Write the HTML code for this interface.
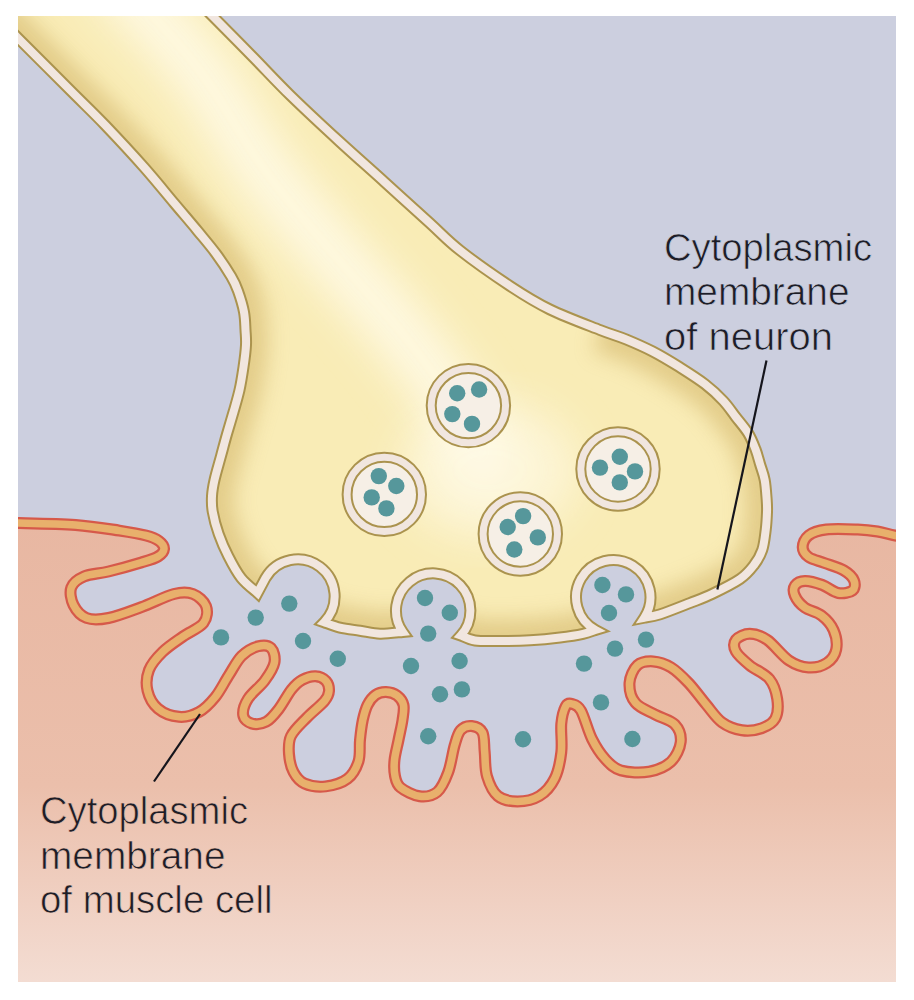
<!DOCTYPE html>
<html><head><meta charset="utf-8"><style>
html,body{margin:0;padding:0;background:#fff;}
body{width:914px;height:1000px;overflow:hidden;position:relative;}
svg{position:absolute;left:0;top:0;}
.t{font-family:"Liberation Sans",sans-serif;font-size:39px;fill:#1d1d27;}
</style></head><body>
<svg width="914" height="1000" viewBox="0 0 914 1000">
<defs>
<clipPath id="box"><rect x="18" y="16" width="878" height="966"/></clipPath>
<linearGradient id="mg" x1="0" y1="523" x2="0" y2="1000" gradientUnits="userSpaceOnUse">
<stop offset="0" stop-color="#e8b7a2"/>
<stop offset="0.55" stop-color="#ebbfab"/>
<stop offset="1" stop-color="#f4dfd6"/>
</linearGradient>
<clipPath id="nclip"><path d="M185,-12 C189.7,-7.2 201.8,5.2 213,16.5 C224.2,27.8 239,42.8 252,56 C265,69.2 276.4,81.8 291,96 C305.6,110.2 323.9,127.2 339.5,141.5 C355.1,155.8 369.6,168.5 384.5,182 C399.4,195.5 416.6,211.1 429.2,222.5 C441.8,233.9 446.5,239.8 460,250.4 C473.5,261 495,276.1 510,286 C525,295.9 535,302.2 550,309.5 C565,316.8 587.3,325 600,330 C612.7,335 617.5,335.9 626.3,339.5 C635,343.1 643.8,346.9 652.5,351.4 C661.2,355.9 670,361.2 678.8,366.7 C687.5,372.2 697.6,378.5 705,384.2 C712.4,389.9 718.3,395.5 723.4,401 C728.5,406.5 731.7,411.7 735.8,417 C739.9,422.3 744.7,427.7 748,433 C751.3,438.3 753.4,443.8 755.4,449 C757.4,454.2 758.5,458.8 760,464 C761.5,469.2 763.6,474 764.7,480 C765.8,486 766.3,494.7 766.7,500 C767.1,505.3 767.2,507 767,512 C766.8,517 766.5,523.7 765.7,530 C764.9,536.3 764.2,544.2 762.2,550 C760.2,555.8 757.7,560.2 754,565 C750.3,569.8 747,574.2 740,579 C733,583.8 720.3,590 712,594 C703.7,598 698.7,599.6 690,603 C681.3,606.4 667.6,611.9 660,614.4 C652.4,616.9 646.9,617.2 644.3,617.7 A37.2,37.2 0 1 0 595.5,629.9 C593.5,630.5 588.9,632.5 583,633.8 C577.1,635.1 568.8,636.4 560,637.5 C551.2,638.6 540,639.7 530,640.3 C520,640.9 509.2,641 500,641 C490.8,641 481.5,641.4 475,640.5 C468.5,639.6 463.2,636.3 460.8,635.5 A37.2,37.2 0 1 0 402.7,631.9 C398.9,632.2 387.1,633.9 380,633.7 C372.9,633.5 366.7,631.7 360,630.7 C353.3,629.7 346,629 340,627.6 C334,626.2 326.8,623.1 324.1,622.2 A37,37 0 1 0 265.5,578 L257.5,593 C254.8,590.5 246.1,584.2 241.2,578 C236.3,571.8 231.9,563.3 228.2,556 C224.4,548.7 221.3,541.3 218.7,534 C216.1,526.7 213.9,518.3 212.8,512 C211.7,505.7 211.7,501.3 212,496 C212.3,490.7 213,486.7 214.5,480 C216,473.3 218.9,463.7 221,456 C223.1,448.3 224.9,441.3 227,434 C229.1,426.7 231.4,419.3 233.5,412 C235.6,404.7 237.8,397.5 239.5,390 C241.2,382.5 242.4,374.5 243.5,367 C244.6,359.5 245.7,351.2 246,345 C246.3,338.8 245.8,335.5 245.5,330 C245.2,324.5 245.2,318.5 244,312 C242.8,305.5 240.1,296.9 238,291 C235.9,285.1 235,282.8 231.3,276.6 C227.6,270.4 221.7,261.3 216,253.6 C210.3,245.9 204.3,239 197.4,230.6 C190.5,222.2 183.3,213.9 174.4,203.3 C165.5,192.7 155.3,180 143.8,167 C132.3,154 117.6,138.2 105.5,125.5 C93.4,112.8 85.6,105.6 71,91 C56.4,76.4 31.8,51.8 18,38 C4.2,24.2 -7,13 -12,8 L-12,-40 L185,-40 Z"/></clipPath>
<filter id="blur8" x="-20%" y="-20%" width="140%" height="140%"><feGaussianBlur stdDeviation="10"/></filter>
<filter id="blur20" x="-20%" y="-20%" width="140%" height="140%"><feGaussianBlur stdDeviation="22"/></filter>
</defs>
<g clip-path="url(#box)">
<rect x="0" y="0" width="914" height="1000" fill="#cccfdf"/>
<path d="M0,523 C3.1,523 6.2,522.7 18.8,523 C31.4,523.3 58.8,523.7 75.6,525 C92.4,526.3 107.7,528.9 119.4,530.6 C131.1,532.4 139.4,533.8 146,535.5 C152.6,537.2 156,538.8 159,541 C162,543.2 164.2,546.4 164,549 C163.8,551.6 161.8,554.2 158,556.5 C154.2,558.8 149.6,560 141.3,562.5 C133.1,565 118,569.2 108.5,571.5 C99,573.8 90.2,573.8 84,576.5 C77.8,579.2 73,582.8 71.3,587.5 C69.5,592.2 71,599.9 73.5,605 C76,610.1 80.8,615.8 86.6,618 C92.4,620.2 99.4,619.8 108.5,618 C117.6,616.2 130.4,611.2 141.3,607.2 C152.2,603.2 165.4,596.2 174,594 C182.6,591.8 187.7,592 193,594 C198.3,596 204.2,601.2 206,606 C207.8,610.8 207.3,617.9 203.5,623 C199.7,628.1 189.8,631.7 183,636.5 C176.2,641.3 168.2,646.4 162.5,652 C156.8,657.6 151.5,663.6 149,670 C146.5,676.4 146,684.2 147.5,690.6 C149,697 152.8,704.2 158,708.6 C163.2,713 172.2,716.2 179,716.8 C185.8,717.4 192.9,715.3 199,712 C205.1,708.7 210.4,703 215.3,697 C220.2,691 224.1,682.6 228.5,675.8 C232.9,669 236.7,660.9 241.6,656 C246.5,651.1 253.1,647.6 258,646.3 C262.9,645 268.3,645.3 271,648 C273.7,650.7 275.5,657.2 274.4,662.7 C273.3,668.2 269,674.7 264.6,680.7 C260.2,686.7 251.6,693 248,698.8 C244.4,704.5 242.6,711.1 243.2,715.2 C243.8,719.3 247.7,722.3 251.5,723.4 C255.3,724.5 261.6,724.2 266.2,721.8 C270.8,719.4 274.6,714.4 278.8,709 C283,703.6 287.6,694.3 291.5,689.5 C295.4,684.7 298,682.2 302,680 C306,677.8 311.5,676 315.5,676.2 C319.5,676.4 323.8,678.5 326,681 C328.2,683.5 329.2,687.7 329,691 C328.8,694.3 328.2,696.5 324.5,701 C320.8,705.5 312.1,712.2 306.5,718 C300.9,723.8 293.9,730 291,736 C288.1,742 288.6,748 289,754 C289.4,760 290.9,767.1 293.5,772 C296.1,776.9 299.1,781.1 304.5,783.5 C309.9,785.9 318.4,787.2 325.6,786.4 C332.8,785.6 342,783 347.5,778.8 C353,774.6 356.4,767.8 358.5,761.3 C360.6,754.8 359.3,746.9 360,740 C360.7,733.1 361.6,725.8 362.8,720 C364.1,714.2 365.4,709.2 367.5,705 C369.6,700.8 372.4,697.2 375.5,695 C378.6,692.8 382.4,691.9 386,692 C389.6,692.1 394.1,693.3 397,695.5 C399.9,697.7 402.6,700.9 403.5,705 C404.4,709.1 403.3,714.2 402.5,720 C401.7,725.8 399.8,733.3 398.5,740 C397.2,746.7 395.1,754 394.5,760 C393.9,766 394,771.4 395,776 C396,780.6 396.4,784.1 400.5,787.5 C404.6,790.9 413.6,795.5 419.7,796.3 C425.8,797 432.4,796 437.2,792 C441.9,788 445.3,780 448.2,772.2 C451.1,764.4 452.6,752 454.7,745 C456.8,738 457.8,733.5 460.6,730.3 C463.4,727.1 468,725.6 471.6,726 C475.2,726.4 480.3,728.1 482.5,732.5 C484.7,736.9 483.9,744.9 484.7,752.2 C485.4,759.5 484.8,769 487,776.3 C489.2,783.6 492.7,791.8 497.8,796 C502.9,800.2 510.6,801.4 517.5,801.4 C524.4,801.4 533.2,799.8 539.4,796 C545.6,792.2 551.1,785.8 554.7,778.5 C558.4,771.2 560.2,761.3 561.3,752.2 C562.4,743.1 560.6,731.4 561.3,723.8 C562,716.1 563.9,709.6 565.7,706.3 C567.5,703 569.7,703.3 572.2,704 C574.8,704.7 577.7,704.8 581,710.6 C584.3,716.4 588,731 592,739 C596,747 600.2,753.5 605,758.8 C609.8,764 613.6,768.4 621,770.5 C628.4,772.6 640.9,773.1 649.2,771.6 C657.5,770.1 665.6,766.7 670.9,761.8 C676.1,756.9 680.1,748.2 680.7,742 C681.4,735.8 679.1,729 674.8,724.4 C670.5,719.8 661.6,718.1 655,714.5 C648.4,710.9 639.6,708 635.4,702.7 C631.1,697.5 629.2,689.2 629.5,683 C629.8,676.8 633.4,668.9 637.4,665.3 C641.4,661.7 647.6,661.1 653.2,661.4 C658.8,661.7 665,663.7 670.9,667.3 C676.8,670.9 682.7,676.8 688.6,683 C694.5,689.2 700.7,698.1 706.3,704.7 C711.9,711.3 716.1,718.1 722,722.4 C727.9,726.7 735.2,729.3 741.8,730.3 C748.4,731.3 755.9,730.3 761.5,728.3 C767.1,726.3 772.7,723.4 775.3,718.5 C777.9,713.6 778.2,705.4 777.2,698.8 C776.2,692.2 774,684.6 769.4,679 C764.8,673.4 755.3,669.9 749.7,665.3 C744.1,660.7 738.2,655.8 735.9,651.5 C733.6,647.2 733.6,642.7 735.9,639.7 C738.2,636.8 744.5,633.8 749.7,633.8 C755,633.8 760.9,635.5 767.4,640 C773.9,644.5 782.1,655.9 789,660.5 C795.9,665.1 802.3,667.1 808.6,667.5 C814.9,667.9 822.2,666 826.8,663 C831.4,660 835.1,655 836.2,649.5 C837.3,644 836,635.7 833.5,630 C831,624.3 826.3,619.2 821.5,615.5 C816.7,611.8 809.2,610.8 804.7,607.5 C800.2,604.2 796.4,599.2 794.8,595.5 C793.2,591.8 793.3,587.9 795,585.5 C796.7,583.1 800.4,581.1 805,581 C809.6,580.9 816.9,583 822.4,585 C827.9,587 833.2,592.1 838.2,593 C843.2,593.9 849.9,592.6 852.5,590.5 C855.1,588.4 855.4,583.8 854,580.5 C852.6,577.2 848.9,573.4 844,570.5 C839.1,567.6 830.3,565.2 824.4,563 C818.5,560.8 812.2,559.6 808.6,557 C805,554.4 802.7,550.9 802.7,547.3 C802.7,543.7 804.7,538.4 808.6,535.4 C812.5,532.4 818.1,530.5 826.3,529.5 C834.5,528.5 849.3,529.2 857.8,529.5 C866.3,529.8 871.4,530.5 877.5,531.5 C883.6,532.5 888.2,534.1 894.3,535.4 C900.4,536.6 910.7,538.4 914,539 L914,1000 L0,1000 Z" fill="url(#mg)"/>
<path d="M0,523 C3.1,523 6.2,522.7 18.8,523 C31.4,523.3 58.8,523.7 75.6,525 C92.4,526.3 107.7,528.9 119.4,530.6 C131.1,532.4 139.4,533.8 146,535.5 C152.6,537.2 156,538.8 159,541 C162,543.2 164.2,546.4 164,549 C163.8,551.6 161.8,554.2 158,556.5 C154.2,558.8 149.6,560 141.3,562.5 C133.1,565 118,569.2 108.5,571.5 C99,573.8 90.2,573.8 84,576.5 C77.8,579.2 73,582.8 71.3,587.5 C69.5,592.2 71,599.9 73.5,605 C76,610.1 80.8,615.8 86.6,618 C92.4,620.2 99.4,619.8 108.5,618 C117.6,616.2 130.4,611.2 141.3,607.2 C152.2,603.2 165.4,596.2 174,594 C182.6,591.8 187.7,592 193,594 C198.3,596 204.2,601.2 206,606 C207.8,610.8 207.3,617.9 203.5,623 C199.7,628.1 189.8,631.7 183,636.5 C176.2,641.3 168.2,646.4 162.5,652 C156.8,657.6 151.5,663.6 149,670 C146.5,676.4 146,684.2 147.5,690.6 C149,697 152.8,704.2 158,708.6 C163.2,713 172.2,716.2 179,716.8 C185.8,717.4 192.9,715.3 199,712 C205.1,708.7 210.4,703 215.3,697 C220.2,691 224.1,682.6 228.5,675.8 C232.9,669 236.7,660.9 241.6,656 C246.5,651.1 253.1,647.6 258,646.3 C262.9,645 268.3,645.3 271,648 C273.7,650.7 275.5,657.2 274.4,662.7 C273.3,668.2 269,674.7 264.6,680.7 C260.2,686.7 251.6,693 248,698.8 C244.4,704.5 242.6,711.1 243.2,715.2 C243.8,719.3 247.7,722.3 251.5,723.4 C255.3,724.5 261.6,724.2 266.2,721.8 C270.8,719.4 274.6,714.4 278.8,709 C283,703.6 287.6,694.3 291.5,689.5 C295.4,684.7 298,682.2 302,680 C306,677.8 311.5,676 315.5,676.2 C319.5,676.4 323.8,678.5 326,681 C328.2,683.5 329.2,687.7 329,691 C328.8,694.3 328.2,696.5 324.5,701 C320.8,705.5 312.1,712.2 306.5,718 C300.9,723.8 293.9,730 291,736 C288.1,742 288.6,748 289,754 C289.4,760 290.9,767.1 293.5,772 C296.1,776.9 299.1,781.1 304.5,783.5 C309.9,785.9 318.4,787.2 325.6,786.4 C332.8,785.6 342,783 347.5,778.8 C353,774.6 356.4,767.8 358.5,761.3 C360.6,754.8 359.3,746.9 360,740 C360.7,733.1 361.6,725.8 362.8,720 C364.1,714.2 365.4,709.2 367.5,705 C369.6,700.8 372.4,697.2 375.5,695 C378.6,692.8 382.4,691.9 386,692 C389.6,692.1 394.1,693.3 397,695.5 C399.9,697.7 402.6,700.9 403.5,705 C404.4,709.1 403.3,714.2 402.5,720 C401.7,725.8 399.8,733.3 398.5,740 C397.2,746.7 395.1,754 394.5,760 C393.9,766 394,771.4 395,776 C396,780.6 396.4,784.1 400.5,787.5 C404.6,790.9 413.6,795.5 419.7,796.3 C425.8,797 432.4,796 437.2,792 C441.9,788 445.3,780 448.2,772.2 C451.1,764.4 452.6,752 454.7,745 C456.8,738 457.8,733.5 460.6,730.3 C463.4,727.1 468,725.6 471.6,726 C475.2,726.4 480.3,728.1 482.5,732.5 C484.7,736.9 483.9,744.9 484.7,752.2 C485.4,759.5 484.8,769 487,776.3 C489.2,783.6 492.7,791.8 497.8,796 C502.9,800.2 510.6,801.4 517.5,801.4 C524.4,801.4 533.2,799.8 539.4,796 C545.6,792.2 551.1,785.8 554.7,778.5 C558.4,771.2 560.2,761.3 561.3,752.2 C562.4,743.1 560.6,731.4 561.3,723.8 C562,716.1 563.9,709.6 565.7,706.3 C567.5,703 569.7,703.3 572.2,704 C574.8,704.7 577.7,704.8 581,710.6 C584.3,716.4 588,731 592,739 C596,747 600.2,753.5 605,758.8 C609.8,764 613.6,768.4 621,770.5 C628.4,772.6 640.9,773.1 649.2,771.6 C657.5,770.1 665.6,766.7 670.9,761.8 C676.1,756.9 680.1,748.2 680.7,742 C681.4,735.8 679.1,729 674.8,724.4 C670.5,719.8 661.6,718.1 655,714.5 C648.4,710.9 639.6,708 635.4,702.7 C631.1,697.5 629.2,689.2 629.5,683 C629.8,676.8 633.4,668.9 637.4,665.3 C641.4,661.7 647.6,661.1 653.2,661.4 C658.8,661.7 665,663.7 670.9,667.3 C676.8,670.9 682.7,676.8 688.6,683 C694.5,689.2 700.7,698.1 706.3,704.7 C711.9,711.3 716.1,718.1 722,722.4 C727.9,726.7 735.2,729.3 741.8,730.3 C748.4,731.3 755.9,730.3 761.5,728.3 C767.1,726.3 772.7,723.4 775.3,718.5 C777.9,713.6 778.2,705.4 777.2,698.8 C776.2,692.2 774,684.6 769.4,679 C764.8,673.4 755.3,669.9 749.7,665.3 C744.1,660.7 738.2,655.8 735.9,651.5 C733.6,647.2 733.6,642.7 735.9,639.7 C738.2,636.8 744.5,633.8 749.7,633.8 C755,633.8 760.9,635.5 767.4,640 C773.9,644.5 782.1,655.9 789,660.5 C795.9,665.1 802.3,667.1 808.6,667.5 C814.9,667.9 822.2,666 826.8,663 C831.4,660 835.1,655 836.2,649.5 C837.3,644 836,635.7 833.5,630 C831,624.3 826.3,619.2 821.5,615.5 C816.7,611.8 809.2,610.8 804.7,607.5 C800.2,604.2 796.4,599.2 794.8,595.5 C793.2,591.8 793.3,587.9 795,585.5 C796.7,583.1 800.4,581.1 805,581 C809.6,580.9 816.9,583 822.4,585 C827.9,587 833.2,592.1 838.2,593 C843.2,593.9 849.9,592.6 852.5,590.5 C855.1,588.4 855.4,583.8 854,580.5 C852.6,577.2 848.9,573.4 844,570.5 C839.1,567.6 830.3,565.2 824.4,563 C818.5,560.8 812.2,559.6 808.6,557 C805,554.4 802.7,550.9 802.7,547.3 C802.7,543.7 804.7,538.4 808.6,535.4 C812.5,532.4 818.1,530.5 826.3,529.5 C834.5,528.5 849.3,529.2 857.8,529.5 C866.3,529.8 871.4,530.5 877.5,531.5 C883.6,532.5 888.2,534.1 894.3,535.4 C900.4,536.6 910.7,538.4 914,539" fill="none" stroke="#d6594a" stroke-width="12" stroke-linejoin="round"/>
<path d="M0,523 C3.1,523 6.2,522.7 18.8,523 C31.4,523.3 58.8,523.7 75.6,525 C92.4,526.3 107.7,528.9 119.4,530.6 C131.1,532.4 139.4,533.8 146,535.5 C152.6,537.2 156,538.8 159,541 C162,543.2 164.2,546.4 164,549 C163.8,551.6 161.8,554.2 158,556.5 C154.2,558.8 149.6,560 141.3,562.5 C133.1,565 118,569.2 108.5,571.5 C99,573.8 90.2,573.8 84,576.5 C77.8,579.2 73,582.8 71.3,587.5 C69.5,592.2 71,599.9 73.5,605 C76,610.1 80.8,615.8 86.6,618 C92.4,620.2 99.4,619.8 108.5,618 C117.6,616.2 130.4,611.2 141.3,607.2 C152.2,603.2 165.4,596.2 174,594 C182.6,591.8 187.7,592 193,594 C198.3,596 204.2,601.2 206,606 C207.8,610.8 207.3,617.9 203.5,623 C199.7,628.1 189.8,631.7 183,636.5 C176.2,641.3 168.2,646.4 162.5,652 C156.8,657.6 151.5,663.6 149,670 C146.5,676.4 146,684.2 147.5,690.6 C149,697 152.8,704.2 158,708.6 C163.2,713 172.2,716.2 179,716.8 C185.8,717.4 192.9,715.3 199,712 C205.1,708.7 210.4,703 215.3,697 C220.2,691 224.1,682.6 228.5,675.8 C232.9,669 236.7,660.9 241.6,656 C246.5,651.1 253.1,647.6 258,646.3 C262.9,645 268.3,645.3 271,648 C273.7,650.7 275.5,657.2 274.4,662.7 C273.3,668.2 269,674.7 264.6,680.7 C260.2,686.7 251.6,693 248,698.8 C244.4,704.5 242.6,711.1 243.2,715.2 C243.8,719.3 247.7,722.3 251.5,723.4 C255.3,724.5 261.6,724.2 266.2,721.8 C270.8,719.4 274.6,714.4 278.8,709 C283,703.6 287.6,694.3 291.5,689.5 C295.4,684.7 298,682.2 302,680 C306,677.8 311.5,676 315.5,676.2 C319.5,676.4 323.8,678.5 326,681 C328.2,683.5 329.2,687.7 329,691 C328.8,694.3 328.2,696.5 324.5,701 C320.8,705.5 312.1,712.2 306.5,718 C300.9,723.8 293.9,730 291,736 C288.1,742 288.6,748 289,754 C289.4,760 290.9,767.1 293.5,772 C296.1,776.9 299.1,781.1 304.5,783.5 C309.9,785.9 318.4,787.2 325.6,786.4 C332.8,785.6 342,783 347.5,778.8 C353,774.6 356.4,767.8 358.5,761.3 C360.6,754.8 359.3,746.9 360,740 C360.7,733.1 361.6,725.8 362.8,720 C364.1,714.2 365.4,709.2 367.5,705 C369.6,700.8 372.4,697.2 375.5,695 C378.6,692.8 382.4,691.9 386,692 C389.6,692.1 394.1,693.3 397,695.5 C399.9,697.7 402.6,700.9 403.5,705 C404.4,709.1 403.3,714.2 402.5,720 C401.7,725.8 399.8,733.3 398.5,740 C397.2,746.7 395.1,754 394.5,760 C393.9,766 394,771.4 395,776 C396,780.6 396.4,784.1 400.5,787.5 C404.6,790.9 413.6,795.5 419.7,796.3 C425.8,797 432.4,796 437.2,792 C441.9,788 445.3,780 448.2,772.2 C451.1,764.4 452.6,752 454.7,745 C456.8,738 457.8,733.5 460.6,730.3 C463.4,727.1 468,725.6 471.6,726 C475.2,726.4 480.3,728.1 482.5,732.5 C484.7,736.9 483.9,744.9 484.7,752.2 C485.4,759.5 484.8,769 487,776.3 C489.2,783.6 492.7,791.8 497.8,796 C502.9,800.2 510.6,801.4 517.5,801.4 C524.4,801.4 533.2,799.8 539.4,796 C545.6,792.2 551.1,785.8 554.7,778.5 C558.4,771.2 560.2,761.3 561.3,752.2 C562.4,743.1 560.6,731.4 561.3,723.8 C562,716.1 563.9,709.6 565.7,706.3 C567.5,703 569.7,703.3 572.2,704 C574.8,704.7 577.7,704.8 581,710.6 C584.3,716.4 588,731 592,739 C596,747 600.2,753.5 605,758.8 C609.8,764 613.6,768.4 621,770.5 C628.4,772.6 640.9,773.1 649.2,771.6 C657.5,770.1 665.6,766.7 670.9,761.8 C676.1,756.9 680.1,748.2 680.7,742 C681.4,735.8 679.1,729 674.8,724.4 C670.5,719.8 661.6,718.1 655,714.5 C648.4,710.9 639.6,708 635.4,702.7 C631.1,697.5 629.2,689.2 629.5,683 C629.8,676.8 633.4,668.9 637.4,665.3 C641.4,661.7 647.6,661.1 653.2,661.4 C658.8,661.7 665,663.7 670.9,667.3 C676.8,670.9 682.7,676.8 688.6,683 C694.5,689.2 700.7,698.1 706.3,704.7 C711.9,711.3 716.1,718.1 722,722.4 C727.9,726.7 735.2,729.3 741.8,730.3 C748.4,731.3 755.9,730.3 761.5,728.3 C767.1,726.3 772.7,723.4 775.3,718.5 C777.9,713.6 778.2,705.4 777.2,698.8 C776.2,692.2 774,684.6 769.4,679 C764.8,673.4 755.3,669.9 749.7,665.3 C744.1,660.7 738.2,655.8 735.9,651.5 C733.6,647.2 733.6,642.7 735.9,639.7 C738.2,636.8 744.5,633.8 749.7,633.8 C755,633.8 760.9,635.5 767.4,640 C773.9,644.5 782.1,655.9 789,660.5 C795.9,665.1 802.3,667.1 808.6,667.5 C814.9,667.9 822.2,666 826.8,663 C831.4,660 835.1,655 836.2,649.5 C837.3,644 836,635.7 833.5,630 C831,624.3 826.3,619.2 821.5,615.5 C816.7,611.8 809.2,610.8 804.7,607.5 C800.2,604.2 796.4,599.2 794.8,595.5 C793.2,591.8 793.3,587.9 795,585.5 C796.7,583.1 800.4,581.1 805,581 C809.6,580.9 816.9,583 822.4,585 C827.9,587 833.2,592.1 838.2,593 C843.2,593.9 849.9,592.6 852.5,590.5 C855.1,588.4 855.4,583.8 854,580.5 C852.6,577.2 848.9,573.4 844,570.5 C839.1,567.6 830.3,565.2 824.4,563 C818.5,560.8 812.2,559.6 808.6,557 C805,554.4 802.7,550.9 802.7,547.3 C802.7,543.7 804.7,538.4 808.6,535.4 C812.5,532.4 818.1,530.5 826.3,529.5 C834.5,528.5 849.3,529.2 857.8,529.5 C866.3,529.8 871.4,530.5 877.5,531.5 C883.6,532.5 888.2,534.1 894.3,535.4 C900.4,536.6 910.7,538.4 914,539" fill="none" stroke="#e8b06c" stroke-width="7.5" stroke-linejoin="round"/>
<path d="M185,-12 C189.7,-7.2 201.8,5.2 213,16.5 C224.2,27.8 239,42.8 252,56 C265,69.2 276.4,81.8 291,96 C305.6,110.2 323.9,127.2 339.5,141.5 C355.1,155.8 369.6,168.5 384.5,182 C399.4,195.5 416.6,211.1 429.2,222.5 C441.8,233.9 446.5,239.8 460,250.4 C473.5,261 495,276.1 510,286 C525,295.9 535,302.2 550,309.5 C565,316.8 587.3,325 600,330 C612.7,335 617.5,335.9 626.3,339.5 C635,343.1 643.8,346.9 652.5,351.4 C661.2,355.9 670,361.2 678.8,366.7 C687.5,372.2 697.6,378.5 705,384.2 C712.4,389.9 718.3,395.5 723.4,401 C728.5,406.5 731.7,411.7 735.8,417 C739.9,422.3 744.7,427.7 748,433 C751.3,438.3 753.4,443.8 755.4,449 C757.4,454.2 758.5,458.8 760,464 C761.5,469.2 763.6,474 764.7,480 C765.8,486 766.3,494.7 766.7,500 C767.1,505.3 767.2,507 767,512 C766.8,517 766.5,523.7 765.7,530 C764.9,536.3 764.2,544.2 762.2,550 C760.2,555.8 757.7,560.2 754,565 C750.3,569.8 747,574.2 740,579 C733,583.8 720.3,590 712,594 C703.7,598 698.7,599.6 690,603 C681.3,606.4 667.6,611.9 660,614.4 C652.4,616.9 646.9,617.2 644.3,617.7 A37.2,37.2 0 1 0 595.5,629.9 C593.5,630.5 588.9,632.5 583,633.8 C577.1,635.1 568.8,636.4 560,637.5 C551.2,638.6 540,639.7 530,640.3 C520,640.9 509.2,641 500,641 C490.8,641 481.5,641.4 475,640.5 C468.5,639.6 463.2,636.3 460.8,635.5 A37.2,37.2 0 1 0 402.7,631.9 C398.9,632.2 387.1,633.9 380,633.7 C372.9,633.5 366.7,631.7 360,630.7 C353.3,629.7 346,629 340,627.6 C334,626.2 326.8,623.1 324.1,622.2 A37,37 0 1 0 265.5,578 L257.5,593 C254.8,590.5 246.1,584.2 241.2,578 C236.3,571.8 231.9,563.3 228.2,556 C224.4,548.7 221.3,541.3 218.7,534 C216.1,526.7 213.9,518.3 212.8,512 C211.7,505.7 211.7,501.3 212,496 C212.3,490.7 213,486.7 214.5,480 C216,473.3 218.9,463.7 221,456 C223.1,448.3 224.9,441.3 227,434 C229.1,426.7 231.4,419.3 233.5,412 C235.6,404.7 237.8,397.5 239.5,390 C241.2,382.5 242.4,374.5 243.5,367 C244.6,359.5 245.7,351.2 246,345 C246.3,338.8 245.8,335.5 245.5,330 C245.2,324.5 245.2,318.5 244,312 C242.8,305.5 240.1,296.9 238,291 C235.9,285.1 235,282.8 231.3,276.6 C227.6,270.4 221.7,261.3 216,253.6 C210.3,245.9 204.3,239 197.4,230.6 C190.5,222.2 183.3,213.9 174.4,203.3 C165.5,192.7 155.3,180 143.8,167 C132.3,154 117.6,138.2 105.5,125.5 C93.4,112.8 85.6,105.6 71,91 C56.4,76.4 31.8,51.8 18,38 C4.2,24.2 -7,13 -12,8 L-12,-40 L185,-40 Z" fill="#f9ecb6"/>
<g clip-path="url(#nclip)">
<path d="M600,330 C604.4,331.6 617.5,335.9 626.3,339.5 C635,343.1 643.8,346.9 652.5,351.4 C661.2,355.9 670,361.2 678.8,366.7 C687.5,372.2 697.6,378.5 705,384.2 C712.4,389.9 718.3,395.5 723.4,401 C728.5,406.5 731.7,411.7 735.8,417 C739.9,422.3 744.7,427.7 748,433 C751.3,438.3 753.4,443.8 755.4,449 C757.4,454.2 758.5,458.8 760,464 C761.5,469.2 763.6,474 764.7,480 C765.8,486 766.3,494.7 766.7,500 C767.1,505.3 767.2,507 767,512 C766.8,517 766.5,523.7 765.7,530 C764.9,536.3 764.2,544.2 762.2,550 C760.2,555.8 757.7,560.2 754,565 C750.3,569.8 747,574.2 740,579 C733,583.8 720.3,590 712,594 C703.7,598 698.7,599.6 690,603 C681.3,606.4 667.6,611.9 660,614.4 C652.4,616.9 646.9,617.2 644.3,617.7 L595.5,629.9 C593.5,630.5 588.9,632.5 583,633.8 C577.1,635.1 568.8,636.4 560,637.5 C551.2,638.6 540,639.7 530,640.3 C520,640.9 509.2,641 500,641 C490.8,641 481.5,641.4 475,640.5 C468.5,639.6 463.2,636.3 460.8,635.5 L402.7,631.9 C398.9,632.2 387.1,633.9 380,633.7 C372.9,633.5 366.7,631.7 360,630.7 C353.3,629.7 346,629 340,627.6 C334,626.2 326.8,623.1 324.1,622.2 L257.5,593 C254.8,590.5 246.1,584.2 241.2,578 C236.3,571.8 231.9,563.3 228.2,556 C224.4,548.7 221.3,541.3 218.7,534 C216.1,526.7 213.9,518.3 212.8,512 C211.7,505.7 211.7,501.3 212,496 C212.3,490.7 213,486.7 214.5,480 C216,473.3 218.9,463.7 221,456 C223.1,448.3 224.9,441.3 227,434 C229.1,426.7 231.4,419.3 233.5,412 C235.6,404.7 237.8,397.5 239.5,390 C241.2,382.5 242.4,374.5 243.5,367 C244.6,359.5 245.7,351.2 246,345 C246.3,338.8 245.8,335.5 245.5,330 C245.2,324.5 245.2,318.5 244,312 C242.8,305.5 240.1,296.9 238,291 C235.9,285.1 235,282.8 231.3,276.6 C227.6,270.4 221.7,261.3 216,253.6 C210.3,245.9 204.3,239 197.4,230.6 C190.5,222.2 183.3,213.9 174.4,203.3 C165.5,192.7 155.3,180 143.8,167 C132.3,154 117.6,138.2 105.5,125.5 C93.4,112.8 85.6,105.6 71,91 C56.4,76.4 31.8,51.8 18,38 C4.2,24.2 -7,13 -12,8" fill="none" stroke="#d2b466" stroke-width="44" filter="url(#blur8)" opacity="0.55"/>
<path d="M120,-20 C133.3,-5 176.3,38.8 200,70 C223.7,101.2 240.3,137 262,167 C283.7,197 307,222.8 330,250 C353,277.2 379.2,304.2 400,330 C420.8,355.8 440.8,382.5 455,405 C469.2,427.5 480,455 485,465" fill="none" stroke="#fffbea" stroke-width="60" stroke-linecap="round" filter="url(#blur20)" opacity="0.85"/>
<ellipse cx="490" cy="470" rx="90" ry="70" fill="#fffbea" filter="url(#blur20)" opacity="0.6"/>
</g>
<path d="M185,-12 C189.7,-7.2 201.8,5.2 213,16.5 C224.2,27.8 239,42.8 252,56 C265,69.2 276.4,81.8 291,96 C305.6,110.2 323.9,127.2 339.5,141.5 C355.1,155.8 369.6,168.5 384.5,182 C399.4,195.5 416.6,211.1 429.2,222.5 C441.8,233.9 446.5,239.8 460,250.4 C473.5,261 495,276.1 510,286 C525,295.9 535,302.2 550,309.5 C565,316.8 587.3,325 600,330 C612.7,335 617.5,335.9 626.3,339.5 C635,343.1 643.8,346.9 652.5,351.4 C661.2,355.9 670,361.2 678.8,366.7 C687.5,372.2 697.6,378.5 705,384.2 C712.4,389.9 718.3,395.5 723.4,401 C728.5,406.5 731.7,411.7 735.8,417 C739.9,422.3 744.7,427.7 748,433 C751.3,438.3 753.4,443.8 755.4,449 C757.4,454.2 758.5,458.8 760,464 C761.5,469.2 763.6,474 764.7,480 C765.8,486 766.3,494.7 766.7,500 C767.1,505.3 767.2,507 767,512 C766.8,517 766.5,523.7 765.7,530 C764.9,536.3 764.2,544.2 762.2,550 C760.2,555.8 757.7,560.2 754,565 C750.3,569.8 747,574.2 740,579 C733,583.8 720.3,590 712,594 C703.7,598 698.7,599.6 690,603 C681.3,606.4 667.6,611.9 660,614.4 C652.4,616.9 646.9,617.2 644.3,617.7 A37.2,37.2 0 1 0 595.5,629.9 C593.5,630.5 588.9,632.5 583,633.8 C577.1,635.1 568.8,636.4 560,637.5 C551.2,638.6 540,639.7 530,640.3 C520,640.9 509.2,641 500,641 C490.8,641 481.5,641.4 475,640.5 C468.5,639.6 463.2,636.3 460.8,635.5 A37.2,37.2 0 1 0 402.7,631.9 C398.9,632.2 387.1,633.9 380,633.7 C372.9,633.5 366.7,631.7 360,630.7 C353.3,629.7 346,629 340,627.6 C334,626.2 326.8,623.1 324.1,622.2 A37,37 0 1 0 265.5,578 L257.5,593 C254.8,590.5 246.1,584.2 241.2,578 C236.3,571.8 231.9,563.3 228.2,556 C224.4,548.7 221.3,541.3 218.7,534 C216.1,526.7 213.9,518.3 212.8,512 C211.7,505.7 211.7,501.3 212,496 C212.3,490.7 213,486.7 214.5,480 C216,473.3 218.9,463.7 221,456 C223.1,448.3 224.9,441.3 227,434 C229.1,426.7 231.4,419.3 233.5,412 C235.6,404.7 237.8,397.5 239.5,390 C241.2,382.5 242.4,374.5 243.5,367 C244.6,359.5 245.7,351.2 246,345 C246.3,338.8 245.8,335.5 245.5,330 C245.2,324.5 245.2,318.5 244,312 C242.8,305.5 240.1,296.9 238,291 C235.9,285.1 235,282.8 231.3,276.6 C227.6,270.4 221.7,261.3 216,253.6 C210.3,245.9 204.3,239 197.4,230.6 C190.5,222.2 183.3,213.9 174.4,203.3 C165.5,192.7 155.3,180 143.8,167 C132.3,154 117.6,138.2 105.5,125.5 C93.4,112.8 85.6,105.6 71,91 C56.4,76.4 31.8,51.8 18,38 C4.2,24.2 -7,13 -12,8 L-12,-40 L185,-40 Z" fill="none" stroke="#ab934e" stroke-width="12" stroke-linejoin="miter" stroke-miterlimit="10"/>
<path d="M185,-12 C189.7,-7.2 201.8,5.2 213,16.5 C224.2,27.8 239,42.8 252,56 C265,69.2 276.4,81.8 291,96 C305.6,110.2 323.9,127.2 339.5,141.5 C355.1,155.8 369.6,168.5 384.5,182 C399.4,195.5 416.6,211.1 429.2,222.5 C441.8,233.9 446.5,239.8 460,250.4 C473.5,261 495,276.1 510,286 C525,295.9 535,302.2 550,309.5 C565,316.8 587.3,325 600,330 C612.7,335 617.5,335.9 626.3,339.5 C635,343.1 643.8,346.9 652.5,351.4 C661.2,355.9 670,361.2 678.8,366.7 C687.5,372.2 697.6,378.5 705,384.2 C712.4,389.9 718.3,395.5 723.4,401 C728.5,406.5 731.7,411.7 735.8,417 C739.9,422.3 744.7,427.7 748,433 C751.3,438.3 753.4,443.8 755.4,449 C757.4,454.2 758.5,458.8 760,464 C761.5,469.2 763.6,474 764.7,480 C765.8,486 766.3,494.7 766.7,500 C767.1,505.3 767.2,507 767,512 C766.8,517 766.5,523.7 765.7,530 C764.9,536.3 764.2,544.2 762.2,550 C760.2,555.8 757.7,560.2 754,565 C750.3,569.8 747,574.2 740,579 C733,583.8 720.3,590 712,594 C703.7,598 698.7,599.6 690,603 C681.3,606.4 667.6,611.9 660,614.4 C652.4,616.9 646.9,617.2 644.3,617.7 A37.2,37.2 0 1 0 595.5,629.9 C593.5,630.5 588.9,632.5 583,633.8 C577.1,635.1 568.8,636.4 560,637.5 C551.2,638.6 540,639.7 530,640.3 C520,640.9 509.2,641 500,641 C490.8,641 481.5,641.4 475,640.5 C468.5,639.6 463.2,636.3 460.8,635.5 A37.2,37.2 0 1 0 402.7,631.9 C398.9,632.2 387.1,633.9 380,633.7 C372.9,633.5 366.7,631.7 360,630.7 C353.3,629.7 346,629 340,627.6 C334,626.2 326.8,623.1 324.1,622.2 A37,37 0 1 0 265.5,578 L257.5,593 C254.8,590.5 246.1,584.2 241.2,578 C236.3,571.8 231.9,563.3 228.2,556 C224.4,548.7 221.3,541.3 218.7,534 C216.1,526.7 213.9,518.3 212.8,512 C211.7,505.7 211.7,501.3 212,496 C212.3,490.7 213,486.7 214.5,480 C216,473.3 218.9,463.7 221,456 C223.1,448.3 224.9,441.3 227,434 C229.1,426.7 231.4,419.3 233.5,412 C235.6,404.7 237.8,397.5 239.5,390 C241.2,382.5 242.4,374.5 243.5,367 C244.6,359.5 245.7,351.2 246,345 C246.3,338.8 245.8,335.5 245.5,330 C245.2,324.5 245.2,318.5 244,312 C242.8,305.5 240.1,296.9 238,291 C235.9,285.1 235,282.8 231.3,276.6 C227.6,270.4 221.7,261.3 216,253.6 C210.3,245.9 204.3,239 197.4,230.6 C190.5,222.2 183.3,213.9 174.4,203.3 C165.5,192.7 155.3,180 143.8,167 C132.3,154 117.6,138.2 105.5,125.5 C93.4,112.8 85.6,105.6 71,91 C56.4,76.4 31.8,51.8 18,38 C4.2,24.2 -7,13 -12,8 L-12,-40 L185,-40 Z" fill="none" stroke="#f1e6df" stroke-width="8" stroke-linejoin="miter" stroke-miterlimit="10"/>
<g fill="#56979b">
<circle cx="468.4" cy="405.6" r="37.2" fill="#f6efe6" stroke="#ab934e" stroke-width="11"/>
<circle cx="468.4" cy="405.6" r="37.2" fill="none" stroke="#f1e6df" stroke-width="7"/>
<circle cx="457.2" cy="393.3" r="8.2"/>
<circle cx="479.1" cy="389.5" r="8.2"/>
<circle cx="452.3" cy="414.1" r="8.2"/>
<circle cx="472" cy="423.9" r="8.2"/>
<circle cx="384.3" cy="494.4" r="37.2" fill="#f6efe6" stroke="#ab934e" stroke-width="11"/>
<circle cx="384.3" cy="494.4" r="37.2" fill="none" stroke="#f1e6df" stroke-width="7"/>
<circle cx="378.8" cy="476.1" r="8.2"/>
<circle cx="396.3" cy="486" r="8.2"/>
<circle cx="371.7" cy="497.4" r="8.2"/>
<circle cx="386.4" cy="508.4" r="8.2"/>
<circle cx="520.3" cy="534" r="37.2" fill="#f6efe6" stroke="#ab934e" stroke-width="11"/>
<circle cx="520.3" cy="534" r="37.2" fill="none" stroke="#f1e6df" stroke-width="7"/>
<circle cx="523.1" cy="516.1" r="8.2"/>
<circle cx="507.7" cy="527" r="8.2"/>
<circle cx="537.8" cy="537.4" r="8.2"/>
<circle cx="514.3" cy="549.5" r="8.2"/>
<circle cx="618" cy="469" r="37.2" fill="#f6efe6" stroke="#ab934e" stroke-width="11"/>
<circle cx="618" cy="469" r="37.2" fill="none" stroke="#f1e6df" stroke-width="7"/>
<circle cx="619.8" cy="456.7" r="8.2"/>
<circle cx="600" cy="467.6" r="8.2"/>
<circle cx="635" cy="471.4" r="8.2"/>
<circle cx="619.8" cy="482.4" r="8.2"/>
<circle cx="289.3" cy="603.6" r="8.2"/><circle cx="255.7" cy="617.6" r="8.2"/><circle cx="221" cy="637.4" r="8.2"/><circle cx="303" cy="641" r="8.2"/><circle cx="337.8" cy="658.8" r="8.2"/><circle cx="425" cy="598" r="8.2"/><circle cx="449.8" cy="612.8" r="8.2"/><circle cx="428.2" cy="633.6" r="8.2"/><circle cx="411" cy="666" r="8.2"/><circle cx="459.6" cy="661" r="8.2"/><circle cx="461.9" cy="689.4" r="8.2"/><circle cx="440" cy="694.3" r="8.2"/><circle cx="428.2" cy="736.2" r="8.2"/><circle cx="523" cy="739.3" r="8.2"/><circle cx="602.4" cy="585" r="8.2"/><circle cx="626" cy="594.4" r="8.2"/><circle cx="609" cy="613" r="8.2"/><circle cx="646" cy="639.6" r="8.2"/><circle cx="615" cy="648.6" r="8.2"/><circle cx="584" cy="663.6" r="8.2"/><circle cx="601" cy="702.4" r="8.2"/><circle cx="632.4" cy="739" r="8.2"/>
</g>
<line x1="766.5" y1="360.5" x2="717.4" y2="589.5" stroke="#15151c" stroke-width="2.2"/>
<line x1="200" y1="714" x2="154" y2="781.5" stroke="#15151c" stroke-width="2.2"/>
<text class="t" stroke="#cccfdf" stroke-width="0.7" x="664" y="261.3" textLength="208" lengthAdjust="spacingAndGlyphs">Cytoplasmic</text>
<text class="t" stroke="#cccfdf" stroke-width="0.7" x="664" y="305.4" textLength="185.5" lengthAdjust="spacingAndGlyphs">membrane</text>
<text class="t" stroke="#cccfdf" stroke-width="0.7" x="664" y="349.6" textLength="169" lengthAdjust="spacingAndGlyphs">of neuron</text>
<text class="t" stroke="url(#mg)" stroke-width="0.7" x="40" y="824.4" textLength="208" lengthAdjust="spacingAndGlyphs">Cytoplasmic</text>
<text class="t" stroke="url(#mg)" stroke-width="0.7" x="40" y="869" textLength="185.5" lengthAdjust="spacingAndGlyphs">membrane</text>
<text class="t" stroke="url(#mg)" stroke-width="0.7" x="40" y="913.3" textLength="232.5" lengthAdjust="spacingAndGlyphs">of muscle cell</text>
</g>
</svg>
</body></html>
